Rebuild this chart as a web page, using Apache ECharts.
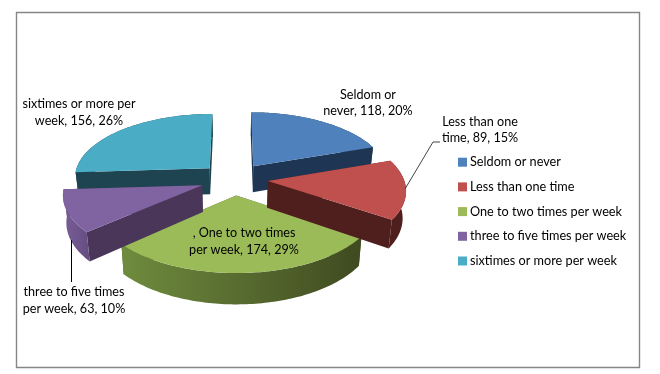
<!DOCTYPE html>
<html>
<head>
<meta charset="utf-8">
<script src="https://cdn.jsdelivr.net/npm/echarts@6/dist/echarts.min.js"></script>
<style>
    html, body { margin: 0; background: #fff; }
    #container { width: 660px; height: 374px; }
</style>
</head>
<body>
<div id="container"></div>
<script type="text/javascript">
    // data
    var categories = ['Seldom or never', 'Less than one time', 'One to two times per week', 'three to five times per week', 'sixtimes or more per week'];
    var values = [118, 89, 174, 63, 156];
    var percents = [20, 15, 29, 10, 26];
    var labelLeads = ['Seldom or\nnever', 'Less than one\ntime', ', One to two times\nper week', 'three to five times\nper week', 'sixtimes or more per\nweek'];

    var topColors = ['#4f81bd', '#c0504d', '#9bbb59', '#8064a2', '#4bacc6'];
    var cutColors = ['#1e3653', '#4f1f1e', '#465426', '#493659', '#1f4451'];
    var rimColors = [['#1e3653', '#1e3653'], ['#4f1f1e', '#4f1f1e'], ['#6f8c3e', '#3f4a20'], ['#7a5f98', '#644c80'], ['#1f4451', '#1f4451']];
    var drawOrder = [0, 1, 4, 2, 3];

    var total = values.reduce(function (a, b) { return a + b; }, 0);
    var starts = [];
    values.reduce(function (sum, v, i) { starts[i] = sum; return sum + v; }, 0);

    // tilted pie projection
    var cx = 234, cy = 179, rx = 136, ry = 63.6;
    var persp = 0.124, explode = 0.25, depth = 26.5, shrink = 0.98;

    function project(X, Y, low) {
        var p = 1 / (1 + persp * Y);
        var x = cx + X * rx * p;
        var y = cy - Y * ry * p;
        if (low) {
            x = cx + (x - cx) * shrink;
            y += depth * p;
        }
        return [x, y];
    }

    function renderSlice(i) {
        return function (params, api) {
            var a0 = starts[i] / total * Math.PI * 2;
            var a1 = (starts[i] + api.value(0)) / total * Math.PI * 2;
            var mid = (a0 + a1) / 2;
            var ox = explode * Math.sin(mid), oy = explode * Math.cos(mid);
            var top = [], low = [];
            var steps = Math.ceil((a1 - a0) / 0.02);
            for (var s = 0; s <= steps; s++) {
                var a = a0 + (a1 - a0) * s / steps;
                top.push(project(ox + Math.sin(a), oy + Math.cos(a), false));
                low.push(project(ox + Math.sin(a), oy + Math.cos(a), true));
            }
            var apexTop = project(ox, oy, false), apexLow = project(ox, oy, true);
            var last = top.length - 1;
            var rim = top.concat(low.slice().reverse());
            return {
                type: 'group',
                children: [
                    { type: 'polygon', shape: { points: [apexTop, top[0], low[0], apexLow] }, style: { fill: cutColors[i] } },
                    { type: 'polygon', shape: { points: [apexTop, top[last], low[last], apexLow] }, style: { fill: cutColors[i] } },
                    {
                        type: 'polygon', shape: { points: rim },
                        style: {
                            fill: new echarts.graphic.LinearGradient(0, 0, 1, 0, [
                                { offset: 0, color: rimColors[i][0] },
                                { offset: 1, color: rimColors[i][1] }
                            ])
                        }
                    },
                    { type: 'polygon', shape: { points: [apexTop].concat(top) }, style: { fill: topColors[i] } }
                ]
            };
        };
    }

    var labelSpots = [[368, 103], [480, 130], [244, 241.5], [74, 300.5], [79, 112.5]];
    var labelFont = '12.6px Lato';

    var graphics = [
        { type: 'rect', z: 0, silent: true, shape: { x: 16.5, y: 12.5, width: 623, height: 355 }, style: { fill: '#fff', stroke: '#868686', lineWidth: 1.4 } },
        { type: 'polyline', z: 50, shape: { points: [[405, 189], [433, 142], [440, 142]] }, style: { fill: null, stroke: '#444', lineWidth: 1 } },
        { type: 'line', z: 50, shape: { x1: 71.5, y1: 240, x2: 71.5, y2: 282 }, style: { stroke: '#000', lineWidth: 1 } }
    ];
    labelLeads.forEach(function (lead, i) {
        graphics.push({
            type: 'text', z: 60,
            x: labelSpots[i][0], y: labelSpots[i][1],
            style: {
                text: lead + ', ' + values[i] + ', ' + percents[i] + '%',
                font: labelFont, fill: '#000', align: 'center', verticalAlign: 'middle', lineHeight: 16.5
            }
        });
    });

    var myChart = echarts.init(document.getElementById('container'), null, { renderer: 'canvas' });
    myChart.setOption({
        animation: false,
        backgroundColor: '#fff',
        legend: {
            orient: 'vertical',
            left: 458,
            top: 155.7,
            padding: 0,
            itemWidth: 9,
            itemHeight: 9,
            itemGap: 11.7,
            selectedMode: false,
            icon: 'rect',
            data: categories,
            textStyle: { fontFamily: 'Lato', fontSize: 12.7, color: '#000', padding: [0, 0, 0, -2] }
        },
        graphic: graphics,
        series: categories.map(function (name, i) {
            return {
                type: 'custom',
                name: name,
                coordinateSystem: 'none',
                silent: true,
                z: 2 + drawOrder.indexOf(i) + (i === 1 ? 5 : 0),
                itemStyle: { color: topColors[i] },
                renderItem: renderSlice(i),
                data: [[values[i]]]
            };
        })
    });
</script>
</body>
</html>
